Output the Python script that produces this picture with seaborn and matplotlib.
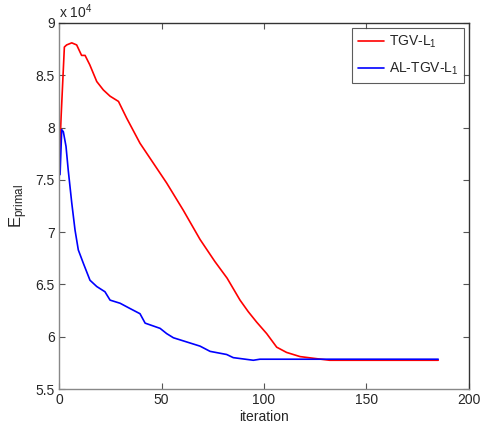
import pandas as pd
import numpy as np
import matplotlib.pyplot as plt
import seaborn as sns

# values (energy in units of 1e4)
tgv_iter = [0, 1, 2.6, 3.7, 6.2, 8.6, 11, 12.7, 15, 18.4, 21.6, 24.9, 29, 33, 39.5,
            46, 52.5, 60.6, 68.8, 76, 82, 88.3, 92.3, 96.4, 101.3, 106.2, 111,
            117.6, 125.7, 132, 150, 170, 185]
tgv_energy = [7.6, 8.1, 8.77, 8.79, 8.81, 8.79, 8.69, 8.69, 8.60, 8.44, 8.36, 8.30,
              8.25, 8.09, 7.85, 7.66, 7.47, 7.21, 6.93, 6.72, 6.56, 6.35, 6.24,
              6.14, 6.03, 5.90, 5.85, 5.81, 5.79, 5.775, 5.775, 5.775, 5.775]

al_iter = [0.5, 1.3, 2.1, 3.4, 4.5, 6.2, 7.8, 9.4, 11.9, 15.1, 18.4, 22.4, 24.9,
           29.8, 34.6, 39.5, 42, 49.3, 52.5, 55.8, 62.3, 68.8, 73.7, 81.8, 85,
           94.8, 98, 120, 150, 185]
al_energy = [7.55, 7.98, 7.96, 7.82, 7.59, 7.28, 7.02, 6.83, 6.70, 6.54, 6.48,
             6.43, 6.35, 6.32, 6.27, 6.22, 6.13, 6.08, 6.03, 5.99, 5.95, 5.91,
             5.86, 5.83, 5.80, 5.775, 5.785, 5.785, 5.785, 5.785]

labels = ['TGV-L$_1$', 'AL-TGV-L$_1$']
colors = ['#ff0000', '#0000ff']

df = pd.concat([
    pd.DataFrame({'iteration': tgv_iter, 'E': tgv_energy, 'method': labels[0]}),
    pd.DataFrame({'iteration': al_iter, 'E': al_energy, 'method': labels[1]}),
])

sns.set_style('ticks')
plt.rcParams['font.family'] = ['Liberation Sans', 'DejaVu Sans']
plt.rcParams['mathtext.fontset'] = 'custom'
plt.rcParams['mathtext.rm'] = 'Liberation Sans'
plt.rcParams['mathtext.it'] = 'Liberation Sans'

fig = plt.figure(figsize=(4.8, 4.32), dpi=100)
ax = fig.add_axes([0.123, 0.0995, 0.854, 0.8473])

sns.lineplot(data=df, x='iteration', y='E', hue='method', palette=colors,
             sort=False, estimator=None, linewidth=1.2, ax=ax)

ax.set_xlim(0, 200)
ax.set_ylim(5.5, 9)
ax.set_xticks([0, 50, 100, 150, 200])
ax.set_yticks([5.5, 6, 6.5, 7, 7.5, 8, 8.5, 9])
ax.set_yticklabels(['5.5', '6', '6.5', '7', '7.5', '8', '8.5', '9'])
ax.tick_params(direction='in', top=True, right=True, length=4, labelsize=10,
               color='#555555', pad=3)
for side in ['left', 'bottom']:
    ax.spines[side].set_color('#888888')
for side in ['top', 'right']:
    ax.spines[side].set_color('#333333')
for sp in ax.spines.values():
    sp.set_linewidth(1.0)

ax.set_xlabel('iteration', fontsize=10, labelpad=2)
ax.set_ylabel('E$_{\\mathregular{primal}}$', fontsize=12, labelpad=4)
ax.text(0.0, 1.005, 'x 10$^{4}$', transform=ax.transAxes, fontsize=10,
        ha='left', va='bottom')

leg = ax.legend(loc='upper right', frameon=True, fancybox=False, fontsize=10,
                edgecolor='#333333', handlelength=1.9, handletextpad=0.35,
                borderaxespad=0.35, labelspacing=0.8)
leg.set_title(None)
leg.get_frame().set_linewidth(0.8)

plt.savefig('out.png', dpi=100)
plt.close()
